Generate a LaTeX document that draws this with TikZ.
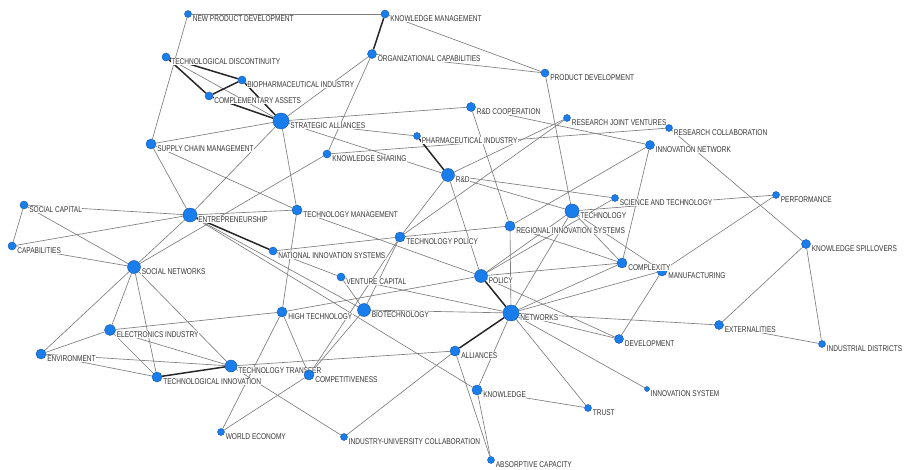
\documentclass[tikz,border=0pt]{standalone}
\usepackage{fontspec}
\newfontfamily\lblfont{Liberation Sans}[FakeStretch=0.78]
\usetikzlibrary{backgrounds}
\definecolor{nodeblue}{RGB}{25,125,235}
\definecolor{nodeborder}{RGB}{20,85,170}
\definecolor{edgegray}{RGB}{125,125,125}
\definecolor{labelgray}{RGB}{55,55,55}
\tikzset{
  vtx/.style={circle, fill=nodeblue, draw=nodeborder, line width=0.4pt, inner sep=0pt},
  lbl/.style={font=\lblfont\fontsize{8.4}{9}\selectfont, text=labelgray, fill=white, inner sep=0.4pt, yshift=-4.5pt, xshift=0.5pt},
  edge/.style={draw=edgegray, line width=0.65pt},
  strong/.style={draw=black!85, line width=1.5pt}
}
\begin{document}
\begin{tikzpicture}[x=1pt, y=-1pt]
    \useasboundingbox (0,0) rectangle (905,470);
    % 1. Keywords (top)
    \node[vtx, minimum size=7pt, label={[lbl]east:NEW PRODUCT DEVELOPMENT}] (npd) at (188,14) {};
    \node[vtx, minimum size=8pt, label={[lbl]east:KNOWLEDGE MANAGEMENT}] (km) at (385,14) {};
    \node[vtx, minimum size=8pt, label={[lbl]east:TECHNOLOGICAL DISCONTINUITY}] (td) at (166,57) {};
    \node[vtx, minimum size=9pt, label={[lbl]east:ORGANIZATIONAL CAPABILITIES}] (oc) at (372,54) {};
    \node[vtx, minimum size=8pt, label={[lbl]east:PRODUCT DEVELOPMENT}] (pd) at (545,73) {};
    \node[vtx, minimum size=8pt, label={[lbl]east:BIOPHARMACEUTICAL INDUSTRY}] (bi) at (242,80) {};
    \node[vtx, minimum size=8pt, label={[lbl]east:COMPLEMENTARY ASSETS}] (ca) at (209,96) {};
    \node[vtx, minimum size=16pt, label={[lbl]east:STRATEGIC ALLIANCES}] (sa) at (281,121) {};
    \node[vtx, minimum size=9pt, label={[lbl]east:R\&D COOPERATION}] (rdc) at (471,107) {};
    \node[vtx, minimum size=7pt, label={[lbl]east:RESEARCH JOINT VENTURES}] (rjv) at (567,118) {};
    \node[vtx, minimum size=7pt, label={[lbl]east:RESEARCH COLLABORATION}] (rc) at (669,128) {};
    \node[vtx, minimum size=7pt, label={[lbl]east:PHARMACEUTICAL INDUSTRY}] (pi) at (417,136) {};
    \node[vtx, minimum size=10pt, label={[lbl]east:SUPPLY CHAIN MANAGEMENT}] (scm) at (151,144) {};
    \node[vtx, minimum size=9pt, label={[lbl]east:INNOVATION NETWORK}] (innet) at (650,145) {};
    \node[vtx, minimum size=8pt, label={[lbl]east:KNOWLEDGE SHARING}] (ks) at (327,154) {};
    \node[vtx, minimum size=13pt, label={[lbl]east:R\&D}] (rd) at (448,175) {};
    % 2. Keywords (middle)
    \node[vtx, minimum size=7pt, label={[lbl]east:SCIENCE AND TECHNOLOGY}] (sat) at (615,198) {};
    \node[vtx, minimum size=7pt, label={[lbl]east:PERFORMANCE}] (perf) at (776,195) {};
    \node[vtx, minimum size=8pt, label={[lbl]east:SOCIAL CAPITAL}] (scap) at (24,205) {};
    \node[vtx, minimum size=14pt, label={[lbl]east:ENTREPRENEURSHIP}] (ent) at (190,215) {};
    \node[vtx, minimum size=10pt, label={[lbl]east:TECHNOLOGY MANAGEMENT}] (tm) at (297,210) {};
    \node[vtx, minimum size=14pt, label={[lbl]east:TECHNOLOGY}] (tech) at (572,211) {};
    \node[vtx, minimum size=10pt, label={[lbl]east:REGIONAL INNOVATION SYSTEMS}] (ris) at (510,226) {};
    \node[vtx, minimum size=10pt, label={[lbl]east:TECHNOLOGY POLICY}] (tp) at (400,237) {};
    \node[vtx, minimum size=9pt, label={[lbl]east:KNOWLEDGE SPILLOVERS}] (ksp) at (806,244) {};
    \node[vtx, minimum size=8pt, label={[lbl]east:CAPABILITIES}] (cap) at (12,246) {};
    \node[vtx, minimum size=8pt, label={[lbl]east:NATIONAL INNOVATION SYSTEMS}] (nis) at (273,251) {};
    \node[vtx, minimum size=13pt, label={[lbl]east:SOCIAL NETWORKS}] (sn) at (134,267) {};
    \node[vtx, minimum size=10pt, label={[lbl]east:MANUFACTURING}] (manu) at (662,271) {};
    \node[vtx, minimum size=10pt, label={[lbl]east:COMPLEXITY}] (cplx) at (622,263) {};
    \node[vtx, minimum size=8pt, label={[lbl]east:VENTURE CAPITAL}] (vc) at (341,277) {};
    \node[vtx, minimum size=13pt, label={[lbl]east:POLICY}] (pol) at (481,276) {};
    \node[vtx, minimum size=10pt, label={[lbl]east:HIGH TECHNOLOGY}] (ht) at (282,312) {};
    \node[vtx, minimum size=13pt, label={[lbl]east:BIOTECHNOLOGY}] (bio) at (364,310) {};
    \node[vtx, minimum size=16pt, label={[lbl]east:NETWORKS}] (net) at (511,313) {};
    % 3. Keywords (bottom)
    \node[vtx, minimum size=9pt, label={[lbl]east:EXTERNALITIES}] (ext) at (719,325) {};
    \node[vtx, minimum size=9pt, label={[lbl]east:DEVELOPMENT}] (dev) at (619,339) {};
    \node[vtx, minimum size=7pt, label={[lbl]east:INDUSTRIAL DISTRICTS}] (idist) at (822,344) {};
    \node[vtx, minimum size=11pt, label={[lbl]east:ELECTRONICS INDUSTRY}] (ei) at (110,330) {};
    \node[vtx, minimum size=10pt, label={[lbl]east:ENVIRONMENT}] (env) at (41,354) {};
    \node[vtx, minimum size=10pt, label={[lbl]east:ALLIANCES}] (all) at (455,351) {};
    \node[vtx, minimum size=12pt, label={[lbl]east:TECHNOLOGY TRANSFER}] (tt) at (231,366) {};
    \node[vtx, minimum size=10pt, label={[lbl]east:TECHNOLOGICAL INNOVATION}] (ti) at (157,377) {};
    \node[vtx, minimum size=10pt, label={[lbl]east:COMPETITIVENESS}] (comp) at (309,375) {};
    \node[vtx, minimum size=10pt, label={[lbl]east:KNOWLEDGE}] (kn) at (477,390) {};
    \node[vtx, minimum size=5pt, label={[lbl]east:INNOVATION SYSTEM}] (insys) at (647,389) {};
    \node[vtx, minimum size=7pt, label={[lbl]east:TRUST}] (trust) at (588,408) {};
    \node[vtx, minimum size=7pt, label={[lbl]east:WORLD ECONOMY}] (we) at (221,432) {};
    \node[vtx, minimum size=7pt, label={[lbl]east:INDUSTRY-UNIVERSITY COLLABORATION}] (iuc) at (344,437) {};
    \node[vtx, minimum size=7pt, label={[lbl]east:ABSORPTIVE CAPACITY}] (ac) at (491,460) {};

    % 4. Links
    \begin{pgfonlayer}{background}
    \foreach \a/\b in {npd/km, npd/scm, td/sa, scm/sa, scm/ent, scm/tm, oc/sa, sa/rdc, sa/pi,
        sa/rd, sa/ent, sa/tm, km/pd, oc/pd, oc/ks, pd/tech, rdc/ris, rdc/innet, rjv/rd, rjv/tp,
        ks/rc, ks/sn, rd/tp, rd/sat, rd/tech, rd/pol, tp/ris, nis/tp, tp/bio, tp/comp, bio/comp,
        tm/pol, tm/ht, tm/ent, ht/pol, ht/ei, ht/we, ht/comp, we/comp, vc/nis, vc/bio, vc/net,
        bio/net, ent/bio, ent/kn, net/ext, net/dev, net/insys, net/trust, net/kn, net/ris,
        net/tech, net/cplx, net/manu, pol/dev, pol/tech, pol/sat, pol/cplx, tech/perf,
        tech/cplx, tech/manu, ris/cplx, innet/ris, innet/cplx, rc/ksp, manu/perf, manu/dev,
        ext/ksp, ext/idist, ksp/idist, kn/trust, kn/ac, all/ac, all/iuc, tt/all, tt/iuc,
        scap/cap, scap/ent, scap/sn, cap/ent, cap/sn, sn/ent, sn/env, sn/ei, sn/ti, sn/tt,
        ei/env, ei/ti, ei/tt, env/tt, env/ti}
        \draw[edge] (\a) -- (\b);
    \foreach \a/\b in {td/bi, td/ca, ca/bi, bi/sa, ca/sa, km/oc, pi/rd, net/all, net/pol,
        ti/tt, ent/nis}
        \draw[strong] (\a) -- (\b);
    \end{pgfonlayer}
\end{tikzpicture}
\end{document}
